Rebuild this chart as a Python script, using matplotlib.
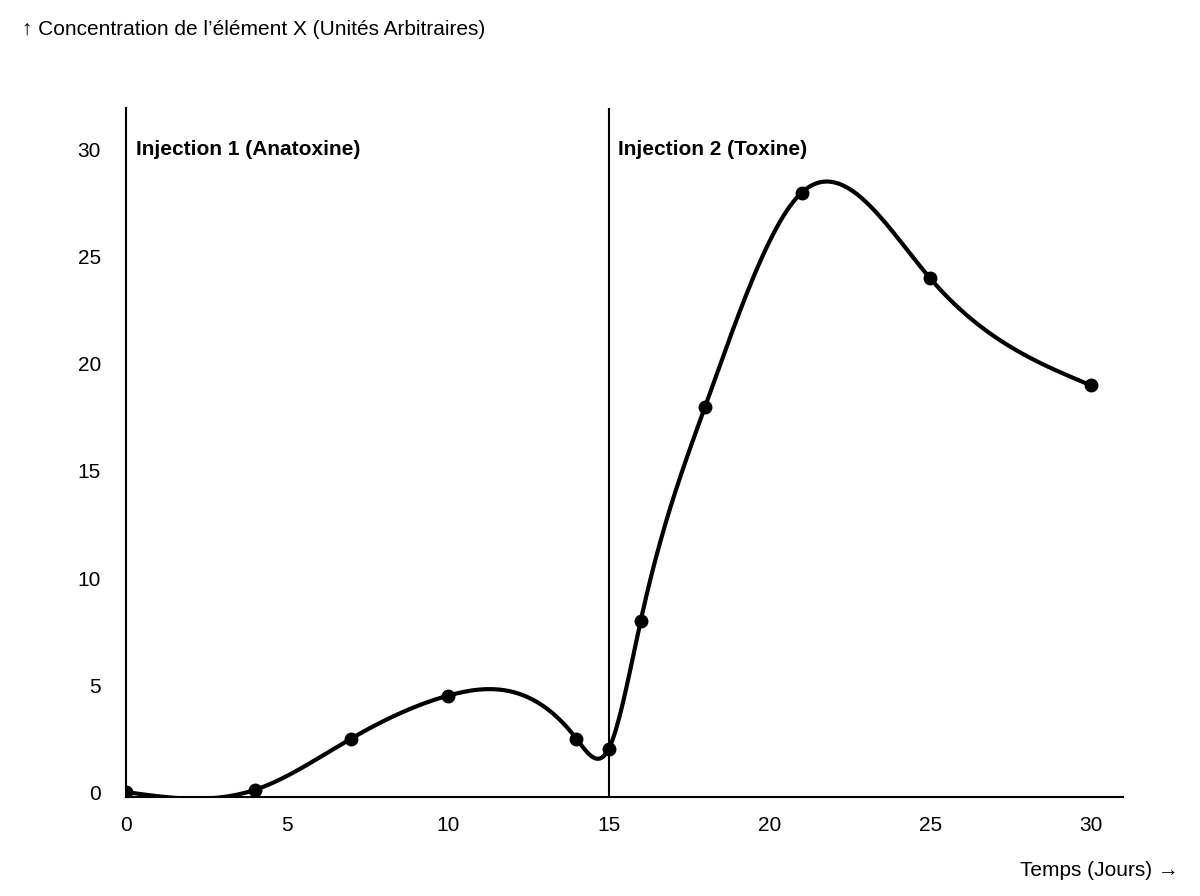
import numpy as np
import matplotlib
matplotlib.use("Agg")
import matplotlib.pyplot as plt

plt.rcParams['font.family'] = ['Liberation Sans', 'DejaVu Sans']

days = [0, 4, 7, 10, 14, 15, 16, 18, 21, 25, 30]
conc = [0, 0.1, 2.5, 4.5, 2.5, 2, 8, 18, 28, 24, 19]
xticks = [0, 5, 10, 15, 20, 25, 30]
yticks = [0, 5, 10, 15, 20, 25, 30]

def natural_spline(x, y, xs):
    x = np.asarray(x, float); y = np.asarray(y, float)
    n = len(x); h = np.diff(x)
    A = np.zeros((n, n)); b = np.zeros(n)
    A[0, 0] = A[-1, -1] = 1
    for i in range(1, n - 1):
        A[i, i-1] = h[i-1]; A[i, i] = 2*(h[i-1]+h[i]); A[i, i+1] = h[i]
        b[i] = 3*((y[i+1]-y[i])/h[i] - (y[i]-y[i-1])/h[i-1])
    c = np.linalg.solve(A, b)
    out = np.empty_like(xs)
    for k, t in enumerate(xs):
        i = min(max(np.searchsorted(x, t) - 1, 0), n - 2)
        bi = (y[i+1]-y[i])/h[i] - h[i]*(2*c[i]+c[i+1])/3
        di = (c[i+1]-c[i])/(3*h[i])
        dt = t - x[i]
        out[k] = y[i] + bi*dt + c[i]*dt**2 + di*dt**3
    return out

fig = plt.figure(figsize=(12, 8.96), dpi=100)
ax = fig.add_axes([0.105, 0.1105, 0.831, 0.769])
xs = np.linspace(0, 30, 600)
ax.plot(xs, natural_spline(days, conc, xs), color='black', lw=3)
ax.plot(days, conc, 'o', color='black', ms=9)
ax.axvline(15, color='black', lw=1.5)
ax.set_xlim(0, 31)
ax.set_ylim(-0.23, 31.96)
ax.set_xticks(xticks); ax.set_yticks(yticks)
ax.tick_params(length=0, labelsize=15, pad=14)
ax.tick_params(axis='y', pad=18)
for s in ['top', 'right']:
    ax.spines[s].set_visible(False)
ax.spines['left'].set_linewidth(1.5)
ax.spines['bottom'].set_linewidth(1.5)
ax.text(0.3, 30, 'Injection 1 (Anatoxine)', fontsize=15, fontweight='bold', va='center')
ax.text(15.3, 30, 'Injection 2 (Toxine)', fontsize=15, fontweight='bold', va='center')
fig.text(0.018, 0.967, '↑ Concentration de l\u2019élément X (Unités Arbitraires)', fontsize=15, va='center')
fig.text(0.982, 0.028, 'Temps (Jours) →', fontsize=15, va='center', ha='right')
fig.savefig('out.png')
